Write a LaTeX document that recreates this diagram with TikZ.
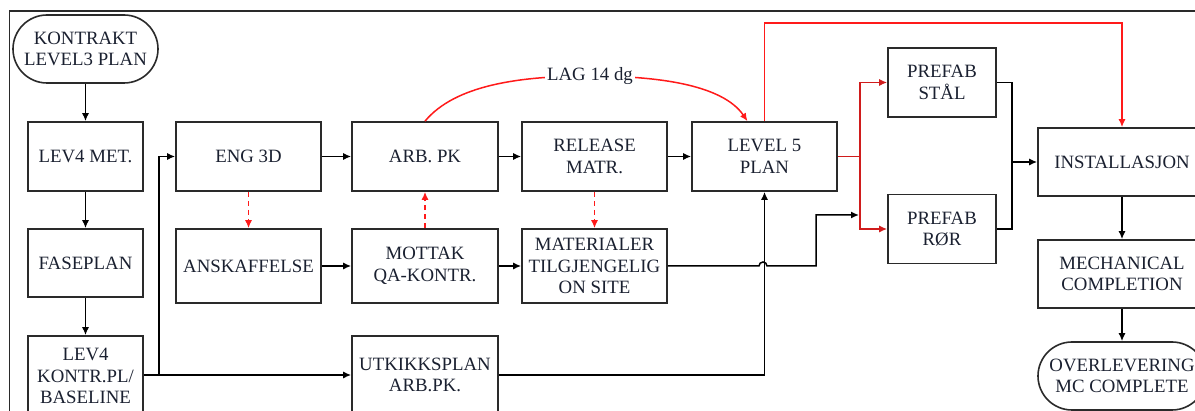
\documentclass[tikz,border=0pt]{standalone}
\usepackage{fontspec}
\setmainfont{Liberation Serif}
\usetikzlibrary{arrows.meta}
\definecolor{boxline}{HTML}{2A2A2A}
\definecolor{inktext}{HTML}{1A2030}
\definecolor{linkred}{HTML}{FF1A1A}
\definecolor{branchred}{HTML}{D01C1C}
\begin{document}
\begin{tikzpicture}[x=1pt,y=-1pt,
  every node/.style={font=\fontsize{18.8}{21.4}\selectfont, align=center, inner sep=0pt, text=inktext},
  stepbox/.style={draw=boxline, line width=1.6pt, minimum width=#1, minimum height=69pt},
  stepbox/.default=145pt,
  tallbox/.style={stepbox=#1, minimum height=74pt},
  tallbox/.default=145pt,
  terminal/.style={draw=boxline, line width=1.6pt, rounded corners=34pt, minimum width=#1, minimum height=68pt},
  flow/.style={draw=black, line width=1.5pt, -{Latex[length=8pt,width=7pt]}},
  plain/.style={draw=black, line width=1.5pt},
  lag/.style={draw=linkred, line width=1.5pt, -{Latex[length=8pt,width=7pt]}},
  feed/.style={draw=linkred, line width=1.5pt, dashed, dash pattern=on 5pt off 4pt, -{Latex[length=8pt,width=7pt]}},
  branch/.style={draw=branchred, line width=1.5pt, -{Latex[length=8pt,width=7pt]}}
]
\useasboundingbox (0,0) rectangle (1195,411);
\fill[white] (0,0) rectangle (1195,411);
\clip (0,0) rectangle (1195,411);

% outer frame
\draw[boxline, line width=1.5pt] (9.5,430) -- (9.5,11) -- (1210,11);

% left column
\node[terminal=145pt] (kontrakt) at (85.5,49) {KONTRAKT\\LEVEL3 PLAN};
\node[stepbox=115pt] (lev4met) at (85.5,156.5) {LEV4 MET.};
\node[stepbox=115pt, minimum height=68pt] (faseplan) at (85.5,263) {FASEPLAN};
\node[stepbox=115pt, minimum height=80pt] (lev4kontr) at (85.5,376) {LEV4\\KONTR.PL/\\BASELINE};

% engineering and procurement chain
\node[stepbox] (eng3d) at (248.5,156.5) {ENG 3D};
\node[tallbox] (anskaff) at (248.5,266) {ANSKAFFELSE};
\node[stepbox=146pt] (arbpk) at (425,156.5) {ARB. PK};
\node[tallbox=146pt] (mottak) at (425,266) {MOTTAK\\QA-KONTR.};
\node[stepbox=146pt, minimum height=78pt] (utkikk) at (425,375) {UTKIKKSPLAN\\ARB.PK.};
\node[stepbox] (release) at (594.5,156.5) {RELEASE\\MATR.};
\node[tallbox] (materialer) at (594.5,266) {MATERIALER\\TILGJENGELIG\\ON SITE};
\node[stepbox] (level5) at (764.5,156.5) {LEVEL 5\\PLAN};

% prefabrication and installation
\node[stepbox=108pt] (stal) at (942,82.5) {PREFAB\\STÅL};
\node[stepbox=108pt] (ror) at (942,229) {PREFAB\\RØR};
\node[stepbox=168pt, minimum height=68pt] (install) at (1122,162) {INSTALLASJON};
\node[stepbox=168pt, minimum height=68pt] (mech) at (1122,274) {MECHANICAL\\COMPLETION};
\node[terminal=168pt] (overlev) at (1122,376) {OVERLEVERING\\MC COMPLETE};

% helper points
\coordinate (split) at (159,375);
\coordinate (redsplit) at (860,156.5);
\coordinate (merge) at (1012,162);
\coordinate (topline) at (0,23);
\coordinate (hop) at (763,266);
\coordinate (step) at (816,266);
\coordinate (joinred) at (860,215);

% black flow
\draw[flow] (kontrakt) -- (lev4met);
\draw[flow] (lev4met) -- (faseplan);
\draw[flow] (faseplan) -- (lev4kontr);
\draw[flow] (lev4kontr.east |- split) -- (utkikk.west |- split);
\draw[flow] (split) |- (eng3d.west);
\draw[flow] (eng3d) -- (arbpk);
\draw[flow] (arbpk) -- (release);
\draw[flow] (release) -- (level5);
\draw[flow] (anskaff) -- (mottak);
\draw[flow] (mottak) -- (materialer);
\draw[flow] (utkikk.east) -| (level5.south);
\draw[flow] (materialer.east) -- ([xshift=-4pt]hop) arc[start angle=180, end angle=0, radius=4pt] -- (step) |- ([xshift=-1pt]joinred);
\draw[plain] (stal.east) -| (merge) |- (ror.east);
\draw[flow] (merge) -- (install.west);
\draw[flow] (install) -- (mech);
\draw[flow] (mech) -- (overlev);

% red dependencies
\draw[feed] (eng3d.south) -- (anskaff.north);
\draw[feed] (mottak.north) -- (arbpk.south);
\draw[feed] (release.south) -- (materialer.north);
\draw[lag] (arbpk.north) .. controls (455,85) and (520,76) .. (590,76)
  .. controls (655,76) and (722,84) .. ([xshift=-17pt]level5.north);
\node[fill=white, inner xsep=2pt, inner ysep=1pt] (lagtxt) at (590,76) {LAG 14 dg};
\draw[lag] (level5.north) -- (level5.north |- topline) -| (install.north);
\draw[branchred, line width=1.5pt] (level5.east) -- (redsplit);
\draw[branch] (redsplit) |- (stal.west);
\draw[branch] (redsplit) |- (ror.west);
\end{tikzpicture}
\end{document}
